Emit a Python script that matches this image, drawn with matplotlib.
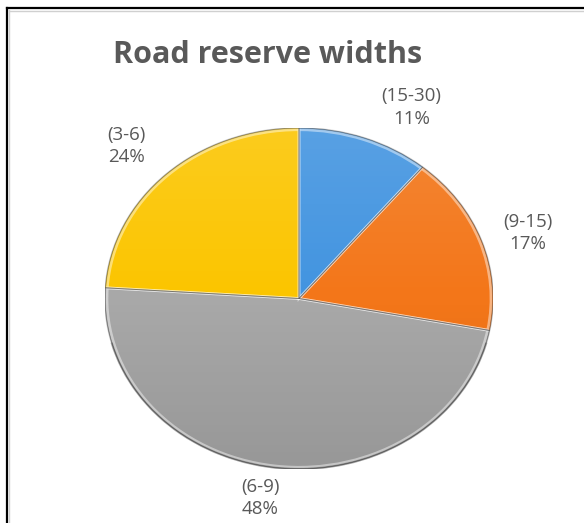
import numpy as np
import matplotlib
matplotlib.use("Agg")
import matplotlib.pyplot as plt
from matplotlib.patches import Circle, Wedge, Arc
from matplotlib.lines import Line2D

# Road reserve width classes (m) and their share of roads (%)
categories = ["(15-30)", "(9-15)", "(6-9)", "(3-6)"]
shares = [11, 17, 48, 24]
colors = ["#4294e0", "#f37619", "#a8a8a8", "#fbc500"]

W, H = 584, 523
fig = plt.figure(figsize=(W / 100, H / 100), dpi=100)
fig.patch.set_facecolor("white")

# Pie axes (stretched horizontally, like the original chart object)
ax = fig.add_axes([105 / W, (H - 469) / H, 388 / W, 341 / H])
wedges, _ = ax.pie(shares, colors=colors, startangle=90, counterclock=False,
                   radius=1.0, wedgeprops=dict(linewidth=0))

# Vertical light-to-dark shading clipped to the pie disc
n = 256
t = np.linspace(0, 1, n)
shade = np.zeros((n, 1, 4))
top = t < 0.5
shade[top, 0, :3] = 1.0
shade[top, 0, 3] = 0.12 * (1 - t[top] / 0.5)
shade[~top, 0, :3] = 0.0
shade[~top, 0, 3] = 0.10 * ((t[~top] - 0.5) / 0.5)
disc = Circle((0, 0), 1.0, transform=ax.transData, facecolor="none", edgecolor="none")
ax.add_patch(disc)
im = ax.imshow(shade, extent=(-1, 1, -1, 1), aspect="auto", origin="upper",
               zorder=2, interpolation="bilinear")
im.set_clip_path(disc)

# Bevel: white highlight beside each slice boundary, then a thin dark edge
for w in wedges:
    hl = Wedge(w.center, w.r * 0.99, w.theta1, w.theta2, facecolor="none",
               edgecolor=(1, 1, 1, 0.45), linewidth=2.0, zorder=3)
    ax.add_patch(hl)
    ed = Wedge(w.center, w.r, w.theta1, w.theta2, facecolor="none",
               edgecolor=(0.2, 0.2, 0.2, 0.4), linewidth=0.7, zorder=4)
    ax.add_patch(ed)

# Rim: faint all round, darker along the lower half
ax.add_patch(Circle((0, 0), 1.0, facecolor="none",
                    edgecolor=(0, 0, 0, 0.12), linewidth=1.4, zorder=4))
ax.add_patch(Arc((0, 0), 2.0, 2.0, theta1=195, theta2=345,
                 edgecolor=(0, 0, 0, 0.22), linewidth=1.6, zorder=4))

ax.set_aspect("auto")
ax.set_xlim(-1, 1)
ax.set_ylim(-1, 1)
ax.axis("off")

# Data labels: category and share
label_pos = [(0.58, 1.12), (1.18, 0.386), (-0.20, -1.17), (-0.89, 0.895)]
for cat, val, (lx, ly) in zip(categories, shares, label_pos):
    ax.text(lx, ly, f"{cat}\n{val}%", ha="center", va="center",
            fontsize=13.5, color="#595959", family=["Open Sans", "DejaVu Sans"],
            linespacing=1.3, clip_on=False, zorder=5)

fig.text(268 / W, 1 - 63 / H, "Road reserve widths", ha="center", va="baseline",
         fontsize=22, fontweight="bold", color="#595959",
         family=["Open Sans", "DejaVu Sans"])

# Chart frame (left and top edges with a faint shadow)
fig.add_artist(Line2D([6.5 / W, 6.5 / W], [0, 1 - 8 / H], color="black",
                      linewidth=1.6, transform=fig.transFigure))
fig.add_artist(Line2D([6.5 / W, 1], [1 - 8 / H, 1 - 8 / H], color="black",
                      linewidth=1.6, transform=fig.transFigure))
fig.add_artist(Line2D([9 / W, 9 / W], [0, 1 - 10 / H], color="#d0d0d0",
                      linewidth=1.0, transform=fig.transFigure))
fig.add_artist(Line2D([9 / W, 1], [1 - 10.5 / H, 1 - 10.5 / H], color="#d0d0d0",
                      linewidth=1.0, transform=fig.transFigure))

fig.savefig("out.png", dpi=100)
